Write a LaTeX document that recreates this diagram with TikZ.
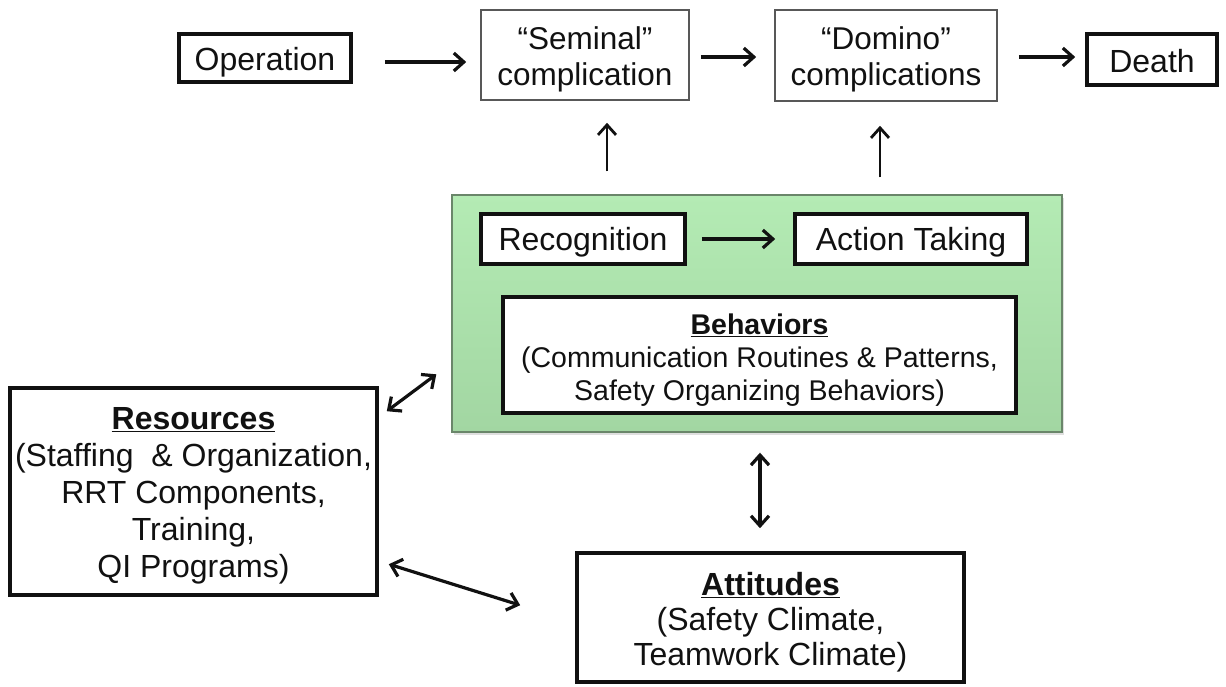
\documentclass[tikz,border=0pt]{standalone}
\usepackage{fontspec}
\setmainfont{Liberation Sans}
\usetikzlibrary{arrows.meta,shadows}
\definecolor{inkc}{HTML}{111111}
\definecolor{greentop}{HTML}{B4EBB4}
\definecolor{greenbot}{HTML}{A2D6A2}
\definecolor{greenedge}{HTML}{6A866A}
\tikzset{
  thickbox/.style={draw=inkc, line width=3.6pt, fill=white, inner sep=0pt},
  thinbox/.style={draw=inkc!70, line width=1.6pt, fill=white, inner sep=0pt},
  txt/.style={align=center, inner sep=0pt, text=inkc, font=\fontsize{32}{36}\selectfont},
  arr/.style={draw=inkc, line width=3.2pt, -{Straight Barb[length=10pt,width=18pt]}},
  darr/.style={draw=inkc, line width=3.2pt, {Straight Barb[length=10pt,width=18pt]}-{Straight Barb[length=10pt,width=18pt]}},
}
\newcommand{\headtxt}[1]{\underline{\textbf{#1}}}
\begin{document}
\begin{tikzpicture}[x=1pt,y=-1pt]
\useasboundingbox (0,0) rectangle (1226,686);

% top chain
\node[thickbox, minimum width=172pt, minimum height=48pt] (op) at (265,58) {};
\node[txt] (opT) at ([yshift=-4pt]op.center) {Operation};
\node[thinbox, minimum width=208pt, minimum height=90pt] (sem) at (585,55) {};
\node[txt, font=\fontsize{31.5}{36}\selectfont] (semT) at ([yshift=-4pt]sem.center) {“Seminal”\\complication};
\node[thinbox, minimum width=222pt, minimum height=91pt] (dom) at (886,55.5) {};
\node[txt, font=\fontsize{31.5}{36}\selectfont] (domT) at ([yshift=-4pt]dom.center) {“Domino”\\complications};
\node[thickbox, minimum width=130pt, minimum height=51pt] (death) at (1152,59.5) {};
\node[txt] (deathT) at ([yshift=-2pt]death.center) {Death};

% green panel with its inner boxes
\node[draw=greenedge, line width=1.4pt, top color=greentop, bottom color=greenbot,
      minimum width=610pt, minimum height=237pt, inner sep=0pt,
      drop shadow={shadow xshift=2pt, shadow yshift=-3pt, opacity=0.25}] (green) at (757,313.5) {};
\node[thickbox, minimum width=204pt, minimum height=50pt] (rec) at (583,239) {};
\node[txt] (recT) at ([yshift=-3pt]rec.center) {Recognition};
\node[thickbox, minimum width=232pt, minimum height=50pt] (act) at (911,239) {};
\node[txt] (actT) at ([yshift=-3pt]act.center) {Action Taking};
\node[thickbox, minimum width=513pt, minimum height=116pt] (beh) at (759.5,355) {};
\node[txt, font=\fontsize{28.5}{33}\selectfont] (behT) at ([yshift=-5pt]beh.center)
  {\headtxt{Behaviors}\\(Communication Routines \& Patterns,\\Safety Organizing Behaviors)};

% lower boxes
\node[thickbox, minimum width=367pt, minimum height=207pt] (res) at (193.5,491.5) {};
\node[txt, font=\fontsize{32}{37}\selectfont] (resT) at ([yshift=-4pt]res.center)
  {\headtxt{Resources}\\(Staffing\ \ \& Organization,\\RRT Components,\\Training,\\QI Programs)};
\node[thickbox, minimum width=387pt, minimum height=129pt] (att) at (770.5,617.5) {};
\node[txt, font=\fontsize{32}{35}\selectfont] (attT) at ([yshift=-5pt]att.center)
  {\headtxt{Attitudes}\\(Safety Climate,\\Teamwork Climate)};

% connectors
\draw[arr, shorten <=32pt, shorten >=14pt] ([yshift=-4pt]op.east) -- ([yshift=-4pt]op.east -| sem.west);
\draw[arr, shorten <=11pt, shorten >=18pt] ([yshift=-2pt]sem.east) -- ([yshift=-2pt]sem.east -| dom.west);
\draw[arr, shorten <=21pt, shorten >=10pt] ([yshift=-1.5pt]dom.east) -- ([yshift=-1.5pt]dom.east -| death.west);
\draw[arr, line width=2.8pt, shorten <=23pt, shorten >=22pt] ([xshift=22pt]sem.south |- green.north) -- ([xshift=22pt]sem.south);
\draw[arr, line width=2.8pt, shorten <=17pt, shorten >=24pt] ([xshift=-6pt]dom.south |- green.north) -- ([xshift=-6pt]dom.south);
\draw[arr, shorten <=15pt, shorten >=18pt] (rec.east) -- (act.west);
\draw[darr] ([shift={(8,25)}]res.north east) -- ([shift={(-15,180)}]green.north west);
\draw[darr] ([shift={(10,178)}]res.north east) -- ([shift={(-55,54)}]att.north west);
\draw[darr, shorten >=23pt] ([shift={(3,20)}]green.south) -- ([xshift=3pt]green.south |- att.north);
\end{tikzpicture}
\end{document}
